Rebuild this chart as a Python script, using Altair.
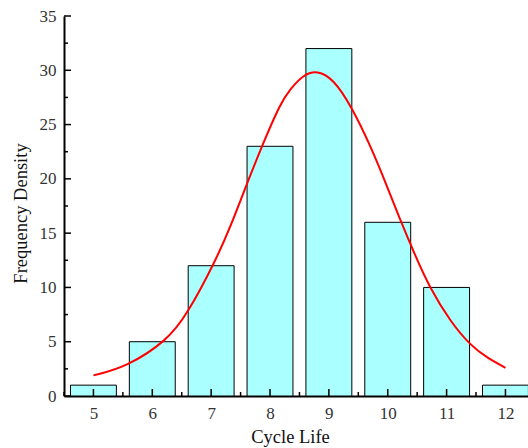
import altair as alt
import pandas as pd

# Histogram data
cycle = [5, 6, 7, 8, 9, 10, 11, 12]
freq = [1, 5, 12, 23, 32, 16, 10, 1]

# Fitted curve
curve_x = [5.0, 5.57, 6.25, 6.59, 7.07, 7.33, 7.61, 7.87, 8.18, 8.35, 8.57, 8.80, 9.08, 9.39,
           9.71, 9.99, 10.22, 10.47, 10.70, 11.07, 11.40, 11.69, 12.0]
curve_y = [1.9, 2.7, 5.1, 7.5, 12.4, 15.6, 19.6, 23.1, 27.0, 28.3, 29.6, 30.0, 29.2, 26.6,
           23.0, 19.3, 16.1, 12.9, 10.1, 6.8, 4.7, 3.5, 2.6]

# Tick positions
y_major = [0, 5, 10, 15, 20, 25, 30, 35]
y_minor = [2.5, 7.5, 12.5, 17.5, 22.5, 27.5, 32.5]
x_major = [5, 6, 7, 8, 9, 10, 11, 12]
x_minor = [4.5, 5.5, 6.5, 7.5, 8.5, 9.5, 10.5, 11.5]

W, H = 464, 380
FONT = "Liberation Serif"

xscale = alt.Scale(domain=[4.5, 12.383], nice=False, zero=False)
yscale = alt.Scale(domain=[0, 35], nice=False)

bars_df = pd.DataFrame({"x": cycle, "f": freq})
curve_df = pd.DataFrame({"x": curve_x, "y": curve_y})

axis_common = dict(ticks=False, grid=False, domainColor="black", domainWidth=2,
                   labelFont=FONT, labelFontSize=17, labelColor="#333333",
                   titleFont=FONT, titleFontSize=18.5, titleFontWeight="normal",
                   titleColor="#111111", format="d")

bars = alt.Chart(bars_df).transform_calculate(
    x0="datum.x - 0.39", x1="datum.x + 0.39"
).mark_bar(fill="#AAFFFF", stroke="black", strokeWidth=1, clip=True).encode(
    x=alt.X("x0:Q", scale=xscale,
            axis=alt.Axis(title="Cycle Life", values=x_major, labelPadding=9,
                          titlePadding=6, titleX=226, **axis_common)),
    x2="x1:Q",
    y=alt.Y("f:Q", scale=yscale,
            axis=alt.Axis(title="Frequency Density", values=y_major, labelPadding=8,
                          titlePadding=9, titleY=197, **axis_common)),
    y2=alt.datum(0),
)

curve = alt.Chart(curve_df).mark_line(color="red", strokeWidth=2, interpolate="basis", clip=True).encode(
    x=alt.X("x:Q", scale=xscale),
    y=alt.Y("y:Q", scale=yscale),
)

ymaj = alt.Chart(pd.DataFrame({"v": y_major})).mark_rule(color="black", strokeWidth=1.5).encode(
    y=alt.Y("v:Q", scale=yscale), x=alt.value(0), x2=alt.value(7))
ymin = alt.Chart(pd.DataFrame({"v": y_minor})).mark_rule(color="black", strokeWidth=1.5).encode(
    y=alt.Y("v:Q", scale=yscale), x=alt.value(0), x2=alt.value(4))
xmaj = alt.Chart(pd.DataFrame({"v": x_major})).mark_rule(color="black", strokeWidth=1.5).encode(
    x=alt.X("v:Q", scale=xscale), y=alt.value(H), y2=alt.value(H - 7))
xmin = alt.Chart(pd.DataFrame({"v": x_minor})).mark_rule(color="black", strokeWidth=1.5).encode(
    x=alt.X("v:Q", scale=xscale), y=alt.value(H), y2=alt.value(H - 4))

chart = alt.layer(bars, curve, ymaj, ymin, xmaj, xmin).properties(
    width=W, height=H,
    background="white",
    autosize=alt.AutoSizeParams(type="none"),
    padding={"left": 64, "top": 16, "right": 0, "bottom": 52},
).configure_view(stroke=None, strokeWidth=0)

chart.save("out.html", embed_options={"renderer": "svg", "actions": False})
